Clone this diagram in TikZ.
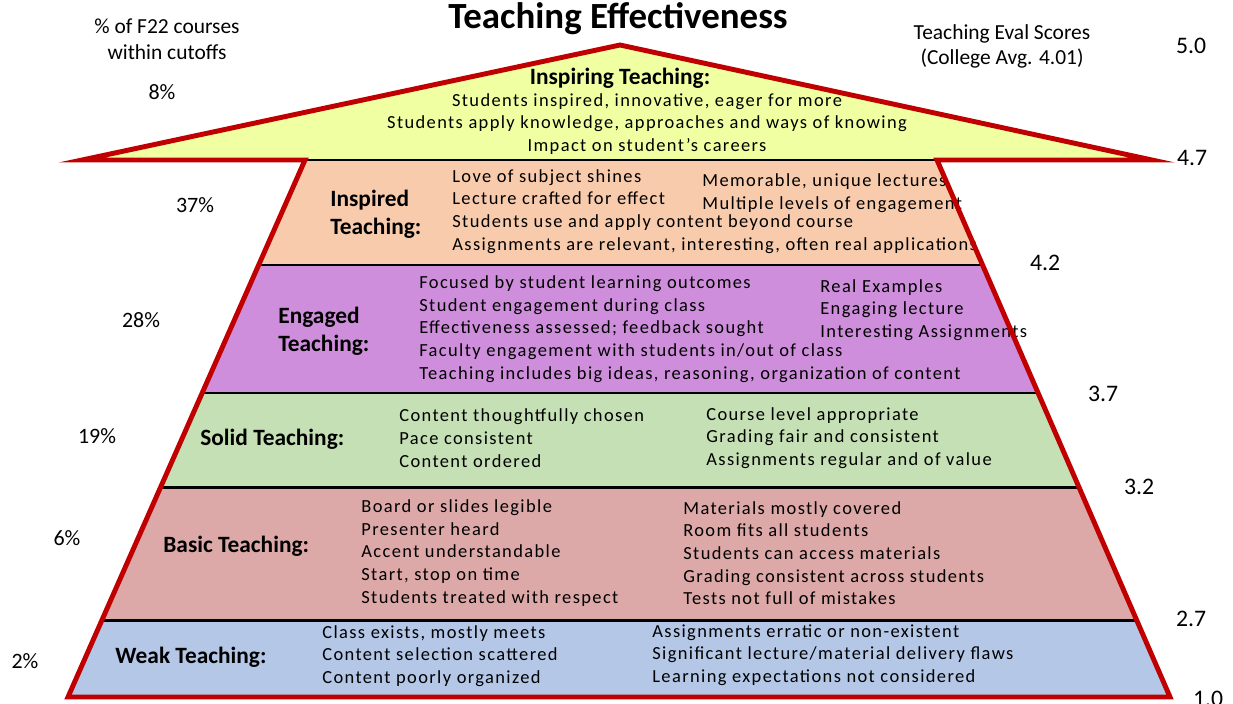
\documentclass[tikz,border=0pt]{standalone}
\usepackage{fontspec}
\setmainfont{Carlito}
\newfontfamily\itemfont{Carlito}[LetterSpace=7.5]
\usetikzlibrary{backgrounds}

\definecolor{tipred}{HTML}{C00000}
\definecolor{inspiringfill}{HTML}{EFFFA2}
\definecolor{inspiredfill}{HTML}{F8CBAD}
\definecolor{engagedfill}{HTML}{CE8EDC}
\definecolor{solidfill}{HTML}{C5E0B4}
\definecolor{basicfill}{HTML}{DDA8A8}
\definecolor{weakfill}{HTML}{B4C7E7}

\begin{document}
\begin{tikzpicture}[x=0.02cm, y=-0.02cm, every node/.style={inner sep=0pt},
  tiername/.style={anchor=west, align=left, font=\fontsize{13.3}{15.9}\selectfont\bfseries},
  points/.style={anchor=west, align=left, font=\fontsize{10.5}{12.9}\selectfont\itemfont},
  pct/.style={font=\fontsize{12.5}{15}\selectfont},
  score/.style={font=\fontsize{13.5}{15}\selectfont}]
\useasboundingbox (0,0) rectangle (1233,703);

\coordinate (l0) at (305,160);   \coordinate (r0) at (937,160);
\coordinate (l1) at (258.7,265); \coordinate (r1) at (982.6,265);
\coordinate (l2) at (202.2,393); \coordinate (r2) at (1038.1,393);
\coordinate (l3) at (160.7,487); \coordinate (r3) at (1078.9,487);
\coordinate (l4) at (102,620);   \coordinate (r4) at (1136.6,620);
\coordinate (l5) at (68,697);    \coordinate (r5) at (1170,697);
\coordinate (apex) at (620,45);
\coordinate (lwing) at (82,160); \coordinate (rwing) at (1152,160);

\node[font=\fontsize{21}{24}\selectfont\bfseries] (title) at (618,19) {Teaching Effectiveness};
\node[font=\fontsize{12.2}{14.7}\selectfont, align=center] (pcthead) at (167,39) {\% of F22 courses\\within cutoffs};
\node[font=\fontsize{12.2}{14.2}\selectfont, align=center] (evalhead) at (1002,46) {Teaching Eval Scores\\(College Avg. 4.01)};

\node[pct] (p8) at (162,92) {8\%};
\node[pct] (p37) at (195,205) {37\%};
\node[pct] (p28) at (141,320) {28\%};
\node[pct] (p19) at (97,436) {19\%};
\node[pct] (p6) at (67,538) {6\%};
\node[pct] (p2) at (25,661) {2\%};

\node[score] (s50) at (1191,46) {5.0};
\node[score] (s47) at (1192,158) {4.7};
\node[score] (s42) at (1045,263) {4.2};
\node[score] (s37) at (1103,394) {3.7};
\node[score] (s32) at (1139,487) {3.2};
\node[score] (s27) at (1191,619) {2.7};
\node[score] (s10) at (1208,699) {1.0};

\node[tiername, anchor=center] (inspiringname) at (620,78) {Inspiring Teaching:};
\node[points, anchor=center, align=center] (inspiringpts) at (647,124)
  {Students inspired, innovative, eager for more\\Students apply knowledge, approaches and ways of knowing\\Impact on student’s careers};

\node[tiername] (inspiredname) at (330,214) {Inspired\\Teaching:};
\node[points] (inspiredpts) at (452,211.5)
  {Love of subject shines\\Lecture crafted for effect\\Students use and apply content beyond course\\Assignments are relevant, interesting, often real applications};
\node[points] (inspiredmore) at (702,193) {Memorable, unique lectures\\Multiple levels of engagement};

\node[tiername] (engagedname) at (278,331) {Engaged\\Teaching:};
\node[points] (engagedpts) at (419,329)
  {Focused by student learning outcomes\\Student engagement during class\\Effectiveness assessed; feedback sought\\Faculty engagement with students in/out of class\\Teaching includes big ideas, reasoning, organization of content};
\node[points] (engagedmore) at (820,310) {Real Examples\\Engaging lecture\\Interesting Assignments};

\node[tiername] (solidname) at (200,439) {Solid Teaching:};
\node[points] (solidpts) at (399,438) {Content thoughtfully chosen\\Pace consistent\\Content ordered};
\node[points] (solidmore) at (706,438) {Course level appropriate\\Grading fair and consistent\\Assignments regular and of value};

\node[tiername] (basicname) at (163,546) {Basic Teaching:};
\node[points] (basicpts) at (361,553)
  {Board or slides legible\\Presenter heard\\Accent understandable\\Start, stop on time\\Students treated with respect};
\node[points] (basicmore) at (683,553)
  {Materials mostly covered\\Room fits all students\\Students can access materials\\Grading consistent across students\\Tests not full of mistakes};

\node[tiername] (weakname) at (115,657) {Weak Teaching:};
\node[points] (weakpts) at (322,656) {Class exists, mostly meets\\Content selection scattered\\Content poorly organized};
\node[points] (weakmore) at (652,655)
  {Assignments erratic or non-existent\\Significant lecture/material delivery flaws\\Learning expectations not considered};

\begin{scope}[on background layer]
  \fill[inspiringfill] (lwing) -- (apex) -- (rwing) -- cycle;
  \fill[inspiredfill] (l0) -- (r0) -- (r1) -- (l1) -- cycle;
  \fill[engagedfill] (l1) -- (r1) -- (r2) -- (l2) -- cycle;
  \fill[solidfill] (l2) -- (r2) -- (r3) -- (l3) -- cycle;
  \fill[basicfill] (l3) -- (r3) -- (r4) -- (l4) -- cycle;
  \fill[weakfill] (l4) -- (r4) -- (r5) -- (l5) -- cycle;
  \draw[line width=1.7pt] (l0) -- (r0) (l1) -- (r1) (l2) -- (r2) (l3) -- (r3) (l4) -- (r4);
\end{scope}

\draw[tipred, line width=2.8pt, line join=miter]
  (lwing) -- (apex) -- (rwing) -- (r0) -- (r5) -- (l5) -- (l0) -- cycle;
\end{tikzpicture}
\end{document}
